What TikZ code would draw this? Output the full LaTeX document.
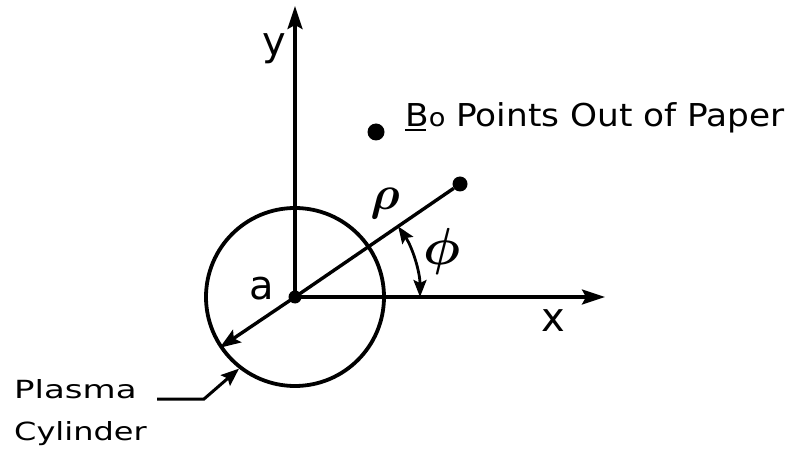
\documentclass[tikz,border=0pt]{standalone}
\usepackage{fontspec}
\setmainfont{DejaVu Sans}
\usetikzlibrary{arrows.meta,calc}
\begin{document}
\begin{tikzpicture}[x=1pt,y=-1pt,
  ln/.style={line width=3.4pt},
  arr/.style={ln,-{Stealth[length=23pt,width=15pt,inset=4pt]}},
  sarr/.style={line width=2.8pt,{Stealth[length=17pt,width=13pt,inset=3pt]}-{Stealth[length=17pt,width=13pt,inset=3pt]}},
  dot/.style={circle,fill,inner sep=0pt,minimum size=#1},
  lbl/.style={inner sep=0pt}]
\useasboundingbox (0,0) rectangle (800,454);
\coordinate (O) at (295,297);
\node[draw,circle,inner sep=0pt,minimum size=178pt,line width=3.8pt] (cyl) at (O) {};
\coordinate (ytip) at (295,6);
\coordinate (xtip) at (605,297);
\draw[arr] (O) -- (ytip);
\draw[arr] (O) -- (xtip);
\node[dot=15pt] (P) at (460,184) {};
\draw[ln] (O) -- (P);
\draw[ln,-{Stealth[length=21pt,width=15pt,inset=4pt]}] (O) -- (cyl.214.4);
\node[dot=13pt] (Od) at (O) {};
% phi arc
\coordinate (A1) at ($(O)+(-34.4:125)$);
\draw[sarr] (A1) arc[start angle=-34.4,end angle=0,radius=125];
% plasma arrow
\coordinate (pl0) at (157,399);
\coordinate (pl1) at (204,399);
\draw[line width=3pt,-{Stealth[length=18pt,width=14pt,inset=3pt]}] (pl0) -- (pl1) -- (cyl.232);
% labels
\node[lbl,font=\fontsize{40}{40}\selectfont] (ylab) at (274,49) {y};
\node[lbl,font=\fontsize{40}{40}\selectfont] (xlab) at (553,321) {x};
\node[lbl,font=\fontsize{40}{40}\selectfont] (alab) at (262,289) {a};
\node[lbl] (rholab) at (385,204) {\scalebox{4.8}{\boldmath$\rho$}};
\node[lbl] (philab) at (442,252) {\scalebox{5.2}{\boldmath$\phi$}};
\node[dot=17pt] (bdot) at (376,132) {};
\node[lbl,anchor=base west,font=\fontsize{31.5}{32}\selectfont] (bo) at (405,127)
  {\scalebox{1.09}[1]{\rlap{\rule[-4pt]{0.62em}{2pt}}B{\fontsize{25}{25}\selectfont o} Points Out of Paper}};
\node[lbl,anchor=base west,font=\fontsize{25}{25}\selectfont] (pl) at (14,398) {\scalebox{1.36}[1]{Plasma}};
\node[lbl,anchor=base west,font=\fontsize{25}{25}\selectfont] (cy) at (14,440) {\scalebox{1.28}[1]{Cylinder}};
\end{tikzpicture}
\end{document}
